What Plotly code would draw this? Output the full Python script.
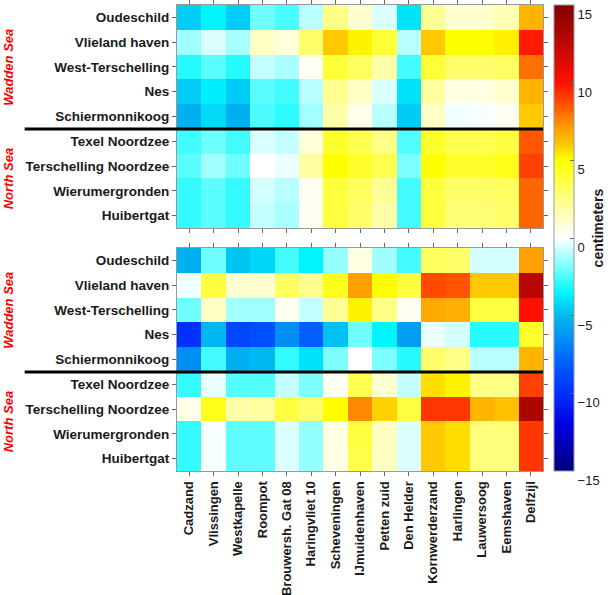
import plotly.graph_objects as go

stations = ["Cadzand", "Vlissingen", "Westkapelle", "Roompot", "Brouwersh. Gat 08",
            "Haringvliet 10", "Scheveningen", "IJmuidenhaven", "Petten zuid", "Den Helder",
            "Kornwerderzand", "Harlingen", "Lauwersoog", "Eemshaven", "Delfzijl"]
rows = ["Oudeschild", "Vlieland haven", "West-Terschelling", "Nes", "Schiermonnikoog",
        "Texel Noordzee", "Terschelling Noordzee", "Wierumergronden", "Huibertgat"]

upper = [
    [-4.5, -3.6, -4.5, -2.0, -2.5, -1.0, 2.5, 1.0, -0.5, -4.0, 2.2, 1.0, 1.0, 1.5, 6.5],
    [-1.3, -0.5, -1.2, 1.2, 0.8, 3.0, 6.0, 5.2, 4.0, -1.0, 6.0, 5.0, 5.0, 5.3, 9.8],
    [-3.0, -2.3, -3.0, -0.8, -1.2, 0.3, 4.0, 3.2, 1.8, -2.6, 4.0, 3.0, 3.0, 3.2, 8.0],
    [-4.5, -3.7, -4.5, -2.3, -2.6, -1.0, 2.3, 1.2, -0.5, -4.0, 2.0, 0.6, 0.6, 1.0, 6.5],
    [-5.3, -4.2, -5.3, -2.5, -2.9, -1.3, 1.8, 0.4, -1.0, -4.5, 1.2, -0.2, -0.1, 0.3, 6.0],
    [-2.6, -2.0, -2.6, -0.5, -0.8, 0.8, 4.2, 3.5, 2.5, -2.4, 4.2, 3.5, 3.5, 3.8, 8.5],
    [-2.3, -1.3, -2.0, 0.0, -0.3, 2.0, 5.0, 4.2, 3.5, -1.8, 5.0, 4.2, 4.2, 4.5, 9.0],
    [-2.8, -2.3, -2.8, -0.6, -1.0, 0.3, 3.8, 3.2, 2.2, -2.6, 3.8, 3.0, 3.0, 3.2, 8.2],
    [-2.8, -2.3, -2.8, -0.8, -1.2, 0.3, 3.8, 3.0, 1.8, -2.6, 3.8, 2.8, 2.8, 3.0, 8.2],
]

lower = [
    [-5.3, -2.0, -4.7, -4.3, -2.6, -3.6, -1.5, 0.6, -1.3, -2.6, 3.2, 3.0, -0.6, -0.6, 7.0],
    [-0.2, 3.8, 1.0, 1.0, 3.2, 2.3, 4.5, 7.0, 5.0, 3.8, 8.8, 8.6, 6.0, 6.0, 12.8],
    [-2.0, 1.2, -1.3, -1.3, 0.3, -0.8, 2.2, 5.2, 2.5, 0.3, 6.8, 6.6, 3.8, 3.8, 10.0],
    [-10.0, -5.0, -9.0, -8.7, -6.5, -8.0, -4.8, -2.0, -3.6, -6.0, -0.3, -0.6, -3.0, -3.0, 4.2],
    [-6.5, -2.6, -5.3, -5.0, -2.8, -4.0, -1.8, 0.0, -1.8, -3.0, 3.0, 2.5, -1.0, -1.0, 6.5],
    [-2.8, -0.3, -2.4, -2.4, -0.8, -1.8, 0.3, 3.5, 1.0, -0.8, 5.6, 5.2, 2.5, 2.5, 9.0],
    [0.4, 4.5, 1.8, 2.0, 3.8, 3.0, 5.0, 7.5, 5.8, 3.8, 9.2, 9.2, 6.5, 6.2, 13.3],
    [-2.8, -0.1, -2.2, -2.2, -0.5, -1.5, 0.6, 3.8, 1.3, -0.5, 6.0, 5.6, 2.7, 2.7, 9.2],
    [-2.8, -0.1, -2.2, -2.2, -0.5, -1.5, 0.6, 3.6, 1.3, -0.5, 6.0, 5.6, 2.7, 2.7, 9.2],
]

cb_ticks = [-15, -10, -5, 0, 5, 10, 15]
CMIN, CMAX = -15, 15


def n(v):
    return (v - CMIN) / (CMAX - CMIN)


colorscale = [
    [0.0, "#00007F"], [n(-12), "#0000E0"], [n(-10), "#0030FF"], [n(-8), "#0060FF"],
    [n(-6.5), "#0090F4"], [n(-5), "#00B8F0"], [n(-3.5), "#00F8FF"], [n(-2), "#70FFFF"],
    [n(0), "#FFFFFF"], [n(2), "#FFFFA0"], [n(5), "#FFFF00"], [n(6), "#FFC800"],
    [n(7), "#FFA000"], [n(8), "#FF7000"], [n(9), "#FF4000"], [n(10), "#FF1000"],
    [1.0, "#800000"],
]

fig = go.Figure()
fig.add_trace(go.Heatmap(z=upper, x=stations, y=rows, coloraxis="coloraxis",
                         xaxis="x", yaxis="y"))
fig.add_trace(go.Heatmap(z=lower, x=stations, y=rows, coloraxis="coloraxis",
                         xaxis="x2", yaxis="y2"))

L, R, T, B = 177, 63, 5, 124
W, H = 610, 595
ph = H - T - B
pw = W - L - R

FONT = "Liberation Sans, Arial, sans-serif"
xtickfont = dict(family=FONT, size=13, color="#1a1a1a", weight="bold")
ytickfont = dict(family=FONT, size=13.5, color="#1a1a1a", weight="bold")
axis_common = dict(ticks="outside", ticklen=4, tickcolor="#666", showline=True,
                   linecolor="#999", linewidth=1, mirror="ticks",
                   showgrid=False, zeroline=False, automargin=False)

cb_top_px = 5
fig.update_layout(
    template="none",
    width=W, height=H,
    margin=dict(l=L, r=R, t=T, b=B, pad=0),
    paper_bgcolor="white", plot_bgcolor="white",
    font=dict(family=FONT),
    xaxis=dict(domain=[0, 1], anchor="y", showticklabels=False, tickfont=xtickfont, **axis_common),
    xaxis2=dict(domain=[0, 1], anchor="y2", tickangle=-90, tickfont=xtickfont, **axis_common),
    yaxis=dict(domain=[(471 - 228) / ph, 1], anchor="x", autorange="reversed",
               tickfont=ytickfont, **axis_common),
    yaxis2=dict(domain=[0, (471 - 248) / ph], anchor="x2", autorange="reversed",
                tickfont=ytickfont, **axis_common),
    coloraxis=dict(
        colorscale=colorscale, cmin=CMIN, cmax=CMAX,
        colorbar=dict(
            x=(558 - L) / pw, xanchor="left", xpad=0, y=0, yanchor="bottom",
            len=(471 - cb_top_px) / ph, lenmode="fraction", ypad=0, thickness=20,
            outlinewidth=1, outlinecolor="#999",
            tickvals=cb_ticks, ticks="inside", ticklen=4, tickcolor="#666",
            ticklabelposition="outside bottom",
            tickfont=dict(family=FONT, size=13, color="#1a1a1a"),
        ),
    ),
    showlegend=False,
)

fig.add_annotation(text="<b>centimeters</b>", xref="paper", yref="paper",
                   x=(603 - L) / pw, y=(471 - 228) / ph, textangle=-90, showarrow=False,
                   font=dict(family=FONT, size=14, color="#1a1a1a"),
                   xanchor="center", yanchor="middle")

x_line0 = (23 - L) / pw
for yref in ["y", "y2"]:
    fig.add_shape(type="line", xref="paper", yref=yref, x0=x_line0, x1=1, y0=4.5, y1=4.5,
                  line=dict(color="black", width=3))

grp_font = dict(family=FONT, size=13, color="#ff0000")
x_grp = (7 - L) / pw
for yref in ["y", "y2"]:
    fig.add_annotation(text="<b><i>Wadden Sea</i></b>", xref="paper", yref=yref, x=x_grp, y=2,
                       textangle=-90, showarrow=False, font=grp_font, xanchor="center", yanchor="middle")
    fig.add_annotation(text="<b><i>North Sea</i></b>", xref="paper", yref=yref, x=x_grp, y=6.5,
                       textangle=-90, showarrow=False, font=grp_font, xanchor="center", yanchor="middle")

fig.write_html("out.html", config={"displayModeBar": False},
               post_script="document.body.style.margin='0';document.body.style.padding='0';")
